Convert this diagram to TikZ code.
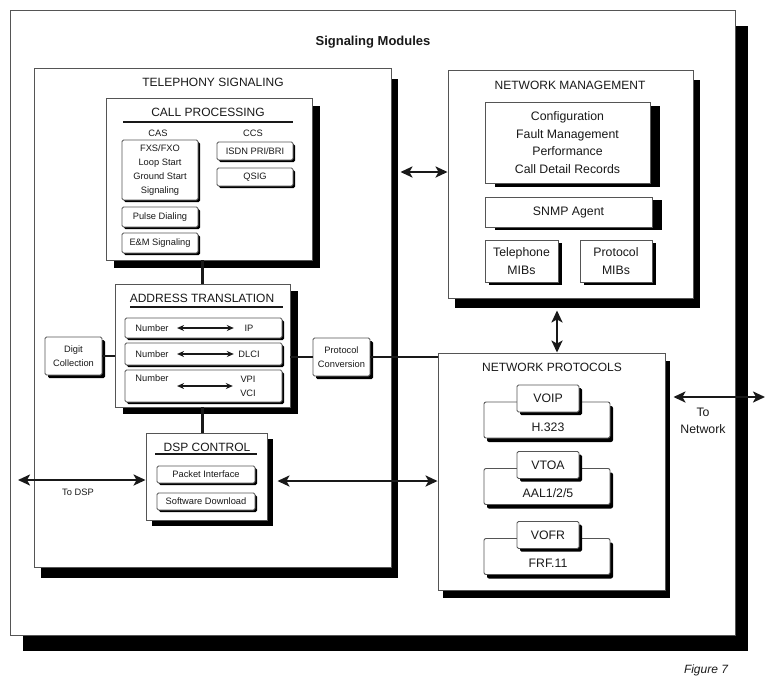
\documentclass[tikz,border=0pt]{standalone}
\usepackage{fontspec}
\setmainfont{Liberation Sans}
\usepackage{tikz}
\usetikzlibrary{arrows.meta,shadows}
\definecolor{edgegray}{RGB}{85,85,85}
\definecolor{inkgray}{RGB}{25,25,25}

\begin{document}
\begin{tikzpicture}[x=1pt,y=-1pt,
  panel/.style={draw=edgegray, line width=0.9pt, fill=white, inner sep=0pt},
  dropblack/.style 2 args={drop shadow={shadow xshift=#1pt, shadow yshift=-#2pt, opacity=1, fill=black}},
  titletext/.style={text=inkgray, font=\fontsize{12}{14}\selectfont},
  smalltext/.style={text=inkgray, font=\fontsize{9.3}{14}\selectfont},
  medtext/.style={text=inkgray, font=\fontsize{12.3}{17.5}\selectfont},
  itembox/.style={panel, rounded corners=1.5pt, smalltext, align=center},
  medbox/.style={panel, medtext, align=center},
  linkline/.style={draw=inkgray, line width=2.3pt},
  titleline/.style={draw=inkgray, line width=1.3pt},
  bigarrow/.style={linkline, {Stealth[length=12pt,width=11pt,inset=3pt]}-{Stealth[length=12pt,width=11pt,inset=3pt]}},
  smallarrow/.style={draw=inkgray, line width=1.4pt, {Stealth[length=7pt,width=6pt]}-{Stealth[length=7pt,width=6pt]}}
]
\useasboundingbox (0,0) rectangle (765,681);

% Outer frame
\node[panel, dropblack={13}{16}, minimum width=725pt, minimum height=625pt] (frame) at (372.5,322.5) {};
\node[text=inkgray, font=\bfseries\fontsize{13}{15}\selectfont] (maintitle) at (373,42) {Signaling Modules};
\node[text=inkgray, font=\itshape\fontsize{12}{14}\selectfont] (figlabel) at (706,670) {Figure 7};

% Telephony signaling
\node[panel, dropblack={7}{11}, minimum width=357pt, minimum height=499pt] (ts) at (212.5,317.5) {};
\node[titletext] (tstitle) at (213,82) {TELEPHONY SIGNALING};

% Call processing
\node[panel, dropblack={8}{8}, minimum width=206pt, minimum height=162pt] (cp) at (209,179) {};
\node[titletext] (cptitle) at (208,112) {CALL PROCESSING};
\draw[titleline] (123,122) -- (293,122);
\node[smalltext] (cas) at (158,133) {CAS};
\node[smalltext] (ccs) at (253,133) {CCS};
\node[itembox, dropblack={2}{2}, minimum width=76pt, minimum height=60pt] (casbox) at (160,170) {FXS/FXO\\Loop Start\\Ground Start\\Signaling};
\node[itembox, dropblack={2}{2}, minimum width=76pt, minimum height=18pt] (isdn) at (255,151) {ISDN PRI/BRI};
\node[itembox, dropblack={2}{2}, minimum width=76pt, minimum height=18pt] (qsig) at (255,177) {QSIG};
\node[itembox, dropblack={2}{2}, minimum width=76pt, minimum height=20pt] (pulse) at (160,217) {Pulse Dialing};
\node[itembox, dropblack={2}{2}, minimum width=76pt, minimum height=20pt] (em) at (160,243) {E\&M Signaling};

% Address translation
\node[panel, dropblack={8}{7}, minimum width=175pt, minimum height=123pt] (at) at (202.5,345.5) {};
\node[titletext] (attitle) at (202,298) {ADDRESS TRANSLATION};
\draw[titleline] (130,307) -- (283,307);
\node[itembox, dropblack={2}{2}, minimum width=157pt, minimum height=20pt] (row1) at (203.5,328) {};
\node[itembox, dropblack={2}{2}, minimum width=157pt, minimum height=22pt] (row2) at (203.5,354) {};
\node[itembox, dropblack={2}{2}, minimum width=157pt, minimum height=32pt] (row3) at (203.5,386) {};
\node[smalltext] (num1) at (152,328) {Number};
\node[smalltext] (num2) at (152,354) {Number};
\node[smalltext] (num3) at (152,378) {Number};
\node[smalltext, minimum width=28pt] (ip) at (249,328) {IP};
\node[smalltext, minimum width=28pt] (dlci) at (249,354) {DLCI};
\node[smalltext, minimum width=28pt, align=center] (vpi) at (248,386) {VPI\\VCI};
\draw[smallarrow, shorten <=5pt, shorten >=1pt] (num1) -- (ip);
\draw[smallarrow, shorten <=5pt, shorten >=1pt] (num2) -- (dlci);
\draw[smallarrow, shorten <=5pt, shorten >=1pt] (num3.east |- vpi.west) -- (vpi.west);

% Digit collection and protocol conversion
\node[itembox, dropblack={3}{3}, minimum width=57pt, minimum height=38pt] (digit) at (73.5,356) {Digit\\Collection};
\node[itembox, dropblack={3}{3}, minimum width=57pt, minimum height=38pt] (protconv) at (341.5,357) {Protocol\\Conversion};

% DSP control
\node[panel, dropblack={6}{6}, minimum width=121pt, minimum height=87pt] (dsp) at (206.5,476.5) {};
\node[titletext] (dsptitle) at (207,447) {DSP CONTROL};
\draw[titleline] (155,454) -- (257,454);
\node[itembox, dropblack={2}{2}, minimum width=98pt, minimum height=17pt] (packet) at (206,474.5) {Packet Interface};
\node[itembox, dropblack={2}{2}, minimum width=98pt, minimum height=17pt] (software) at (206,501.5) {Software Download};

% Network management
\node[panel, dropblack={7}{10}, minimum width=245pt, minimum height=228pt] (nm) at (570.5,184) {};
\node[titletext] (nmtitle) at (570,85) {NETWORK MANAGEMENT};
\node[medbox, dropblack={10}{4}, minimum width=165pt, minimum height=81pt] (config) at (567.5,142.5) {Configuration\\Fault Management\\Performance\\Call Detail Records};
\node[medbox, dropblack={10}{3}, minimum width=167pt, minimum height=30pt] (snmp) at (568.5,212) {SNMP Agent};
\node[medbox, dropblack={4}{3}, minimum width=73pt, minimum height=42pt] (telmib) at (521.5,261) {Telephone\\MIBs};
\node[medbox, dropblack={4}{3}, minimum width=72pt, minimum height=42pt] (protmib) at (616,261) {Protocol\\MIBs};

% Network protocols
\node[panel, dropblack={5}{8}, minimum width=227pt, minimum height=237pt] (np) at (551.5,471.5) {};
\node[titletext] (nptitle) at (552,367) {NETWORK PROTOCOLS};
\foreach \tab/\proto/\y [count=\k] in {VOIP/H.323/420, VTOA/{AAL1/2/5}/486.5, VOFR/FRF.11/556.5} {
    \node[medbox, rounded corners=2pt, dropblack={3}{4}, minimum width=126pt, minimum height=36pt] (grp\k) at (547,\y) {};
    \node[medtext] (proto\k) at (548,\y+7) {\proto};
    \node[medbox, rounded corners=1.5pt, dropblack={3}{3}, minimum width=62pt, minimum height=27pt] (tab\k) at (548,\y-21.5) {\tab};
}

% Links
\draw[linkline] (at.north) -- (at.north |- cp.south);
\draw[linkline] (at.south) -- (at.south |- dsp.north);
\draw[linkline] (digit.east) -- (digit.east -| at.west);
\draw[linkline] (protconv.west) -- (protconv.west -| at.east);
\draw[linkline] (protconv.east) -- (protconv.east -| np.west);

% Arrows
\coordinate (nmlevel) at (400,172);
\coordinate (mgmtx) at (557,0);
\coordinate (dsplevel) at (0,481);
\coordinate (todsp) at (18,480);
\coordinate (tonet) at (765,397);
\draw[bigarrow, shorten <=9pt] (ts.east |- nmlevel) -- (nm.west |- nmlevel);
\draw[bigarrow, shorten <=12pt] (nm.south -| mgmtx) -- (np.north -| mgmtx);
\draw[bigarrow] (todsp) -- (todsp -| dsp.west);
\draw[bigarrow, shorten <=10pt] (dsp.east |- dsplevel) -- (np.west |- dsplevel);
\draw[bigarrow, shorten <=8pt] (np.east |- tonet) -- (tonet);
\node[smalltext] (todsplabel) at (78,492) {To DSP};
\node[medtext, align=center] (tonetlabel) at (703,421) {To\\Network};
\end{tikzpicture}
\end{document}
